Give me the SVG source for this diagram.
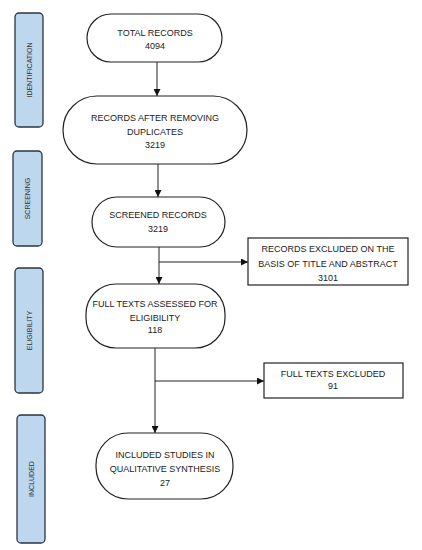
<svg xmlns="http://www.w3.org/2000/svg" width="422" height="550" viewBox="0 0 422 550">
<defs>
<marker id="ah" viewBox="0 0 10 10" refX="10" refY="5" markerWidth="7" markerHeight="7" markerUnits="userSpaceOnUse" orient="auto"><path d="M0,0 L10,5 L0,10 z" fill="#111"/></marker>
<style>
.side{fill:#bdd7ee;stroke:#2b3542;stroke-width:1.3}
.node{fill:#fff;stroke:#222;stroke-width:1.2}
.t{font-family:"Liberation Sans",Arial,sans-serif;font-size:9px;fill:#222;text-anchor:middle}
.st{font-family:"Liberation Sans",Arial,sans-serif;font-size:7px;fill:#333;text-anchor:middle}
.c{stroke:#222;stroke-width:1;fill:none}
</style>
</defs>
<rect width="422" height="550" fill="#fff"/>
<g id="stage-identification"><rect class="side" x="15" y="13" width="28" height="114" rx="4"/><text class="st" transform="translate(31.5,70) rotate(-90)">IDENTIFICATION</text></g>
<g id="stage-screening"><rect class="side" x="13" y="151" width="29" height="95" rx="4"/><text class="st" transform="translate(30,198.5) rotate(-90)">SCREENING</text></g>
<g id="stage-eligibility"><rect class="side" x="15" y="268" width="28" height="125" rx="4"/><text class="st" transform="translate(31.5,330.5) rotate(-90)">ELIGIBILITY</text></g>
<g id="stage-included"><rect class="side" x="17" y="415" width="28" height="128" rx="4"/><text class="st" transform="translate(33.5,479) rotate(-90)">INCLUDED</text></g>
<g id="connectors">
<line class="c" x1="157" y1="62" x2="157" y2="96" marker-end="url(#ah)"/>
<line class="c" x1="158" y1="164" x2="158" y2="197" marker-end="url(#ah)"/>
<line class="c" x1="159" y1="247" x2="159" y2="284" marker-end="url(#ah)"/>
<line class="c" x1="159" y1="262" x2="248" y2="262" marker-end="url(#ah)"/>
<line class="c" x1="155" y1="348" x2="155" y2="433" marker-end="url(#ah)"/>
<line class="c" x1="155" y1="381" x2="264" y2="381" marker-end="url(#ah)"/>
</g>
<g id="n-total"><rect class="node" x="87" y="14" width="135" height="48" rx="24"/><text class="t" x="155" y="36">TOTAL RECORDS</text><text class="t" x="155" y="49">4094</text></g>
<g id="n-dedup"><rect class="node" x="63" y="96" width="184" height="68" rx="34"/><text class="t" x="155" y="121">RECORDS AFTER REMOVING</text><text class="t" x="155" y="135">DUPLICATES</text><text class="t" x="155" y="148">3219</text></g>
<g id="n-screened"><rect class="node" x="92" y="197" width="133" height="50" rx="25"/><text class="t" x="158" y="218">SCREENED RECORDS</text><text class="t" x="158" y="232">3219</text></g>
<g id="n-excl1"><rect class="node" x="248" y="238" width="160" height="47"/><text class="t" x="328" y="252">RECORDS EXCLUDED ON THE</text><text class="t" x="328" y="267">BASIS OF TITLE AND ABSTRACT</text><text class="t" x="328" y="281">3101</text></g>
<g id="n-fulltext"><rect class="node" x="86" y="284" width="139" height="64" rx="30"/><text class="t" x="155" y="307">FULL TEXTS ASSESSED FOR</text><text class="t" x="155" y="321">ELIGIBILITY</text><text class="t" x="155" y="333">118</text></g>
<g id="n-excl2"><rect class="node" x="264" y="363" width="139" height="35"/><text class="t" x="333" y="377">FULL TEXTS EXCLUDED</text><text class="t" x="333" y="389">91</text></g>
<g id="n-included"><rect class="node" x="96" y="433" width="137" height="66" rx="32"/><text class="t" x="165" y="458">INCLUDED STUDIES IN</text><text class="t" x="165" y="472">QUALITATIVE SYNTHESIS</text><text class="t" x="165" y="486">27</text></g>
</svg>
